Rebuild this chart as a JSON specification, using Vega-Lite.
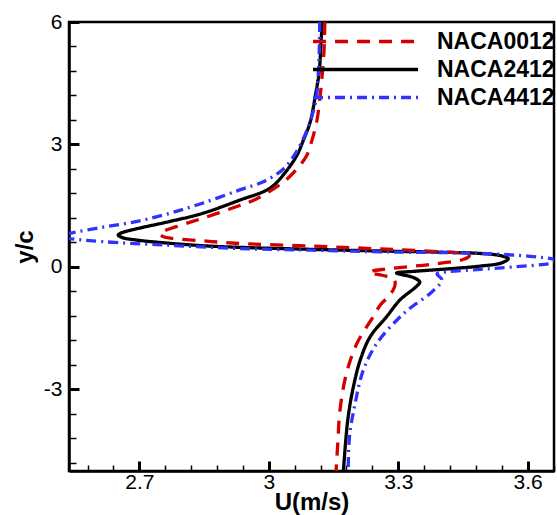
{
  "$schema": "https://vega.github.io/schema/vega-lite/v6.json",
  "width": 485,
  "height": 449,
  "autosize": {"type": "none"},
  "padding": {"left": 69, "top": 22, "right": 3, "bottom": 44},
  "background": "white",
  "config": {
    "view": {"stroke": "black", "strokeWidth": 2.5},
    "font": "Liberation Sans",
    "axis": {"domainColor": "black", "domainWidth": 2.5, "tickColor": "black", "grid": false, "labelColor": "black", "titleColor": "black", "labelFont": "Liberation Sans", "titleFont": "Liberation Sans"}
  },
  "data": {
    "values": [
      {"airfoil": "NACA2412", "i": 1, "u": 3.124, "y": 6.0},
      {"airfoil": "NACA2412", "i": 2, "u": 3.121, "y": 5.5},
      {"airfoil": "NACA2412", "i": 3, "u": 3.117, "y": 4.8},
      {"airfoil": "NACA2412", "i": 4, "u": 3.108, "y": 4.2},
      {"airfoil": "NACA2412", "i": 5, "u": 3.096, "y": 3.55},
      {"airfoil": "NACA2412", "i": 6, "u": 3.08, "y": 3.1},
      {"airfoil": "NACA2412", "i": 7, "u": 3.065, "y": 2.73},
      {"airfoil": "NACA2412", "i": 8, "u": 3.037, "y": 2.3},
      {"airfoil": "NACA2412", "i": 9, "u": 3.003, "y": 1.93},
      {"airfoil": "NACA2412", "i": 10, "u": 2.931, "y": 1.63},
      {"airfoil": "NACA2412", "i": 11, "u": 2.846, "y": 1.31},
      {"airfoil": "NACA2412", "i": 12, "u": 2.769, "y": 1.11},
      {"airfoil": "NACA2412", "i": 13, "u": 2.692, "y": 0.93},
      {"airfoil": "NACA2412", "i": 14, "u": 2.66, "y": 0.84},
      {"airfoil": "NACA2412", "i": 15, "u": 2.651, "y": 0.78},
      {"airfoil": "NACA2412", "i": 16, "u": 2.66, "y": 0.72},
      {"airfoil": "NACA2412", "i": 17, "u": 2.692, "y": 0.66},
      {"airfoil": "NACA2412", "i": 18, "u": 2.769, "y": 0.58},
      {"airfoil": "NACA2412", "i": 19, "u": 2.846, "y": 0.52},
      {"airfoil": "NACA2412", "i": 20, "u": 2.931, "y": 0.48},
      {"airfoil": "NACA2412", "i": 21, "u": 3.1, "y": 0.43},
      {"airfoil": "NACA2412", "i": 22, "u": 3.258, "y": 0.39},
      {"airfoil": "NACA2412", "i": 23, "u": 3.4, "y": 0.36},
      {"airfoil": "NACA2412", "i": 24, "u": 3.49, "y": 0.33},
      {"airfoil": "NACA2412", "i": 25, "u": 3.535, "y": 0.28},
      {"airfoil": "NACA2412", "i": 26, "u": 3.555, "y": 0.2},
      {"airfoil": "NACA2412", "i": 27, "u": 3.54, "y": 0.1},
      {"airfoil": "NACA2412", "i": 28, "u": 3.49, "y": 0.02},
      {"airfoil": "NACA2412", "i": 29, "u": 3.413, "y": -0.05},
      {"airfoil": "NACA2412", "i": 30, "u": 3.335, "y": -0.11},
      {"airfoil": "NACA2412", "i": 31, "u": 3.296, "y": -0.15},
      {"airfoil": "NACA2412", "i": 32, "u": 3.335, "y": -0.26},
      {"airfoil": "NACA2412", "i": 33, "u": 3.35, "y": -0.37},
      {"airfoil": "NACA2412", "i": 34, "u": 3.343, "y": -0.47},
      {"airfoil": "NACA2412", "i": 35, "u": 3.304, "y": -0.81},
      {"airfoil": "NACA2412", "i": 36, "u": 3.273, "y": -1.22},
      {"airfoil": "NACA2412", "i": 37, "u": 3.235, "y": -1.71},
      {"airfoil": "NACA2412", "i": 38, "u": 3.212, "y": -2.28},
      {"airfoil": "NACA2412", "i": 39, "u": 3.196, "y": -2.94},
      {"airfoil": "NACA2412", "i": 40, "u": 3.184, "y": -3.67},
      {"airfoil": "NACA2412", "i": 41, "u": 3.178, "y": -4.3},
      {"airfoil": "NACA2412", "i": 42, "u": 3.173, "y": -5.0},

      {"airfoil": "NACA0012", "i": 1, "u": 3.13, "y": 6.0},
      {"airfoil": "NACA0012", "i": 2, "u": 3.128, "y": 5.3},
      {"airfoil": "NACA0012", "i": 3, "u": 3.123, "y": 4.6},
      {"airfoil": "NACA0012", "i": 4, "u": 3.117, "y": 4.0},
      {"airfoil": "NACA0012", "i": 5, "u": 3.111, "y": 3.55},
      {"airfoil": "NACA0012", "i": 6, "u": 3.1, "y": 3.1},
      {"airfoil": "NACA0012", "i": 7, "u": 3.088, "y": 2.73},
      {"airfoil": "NACA0012", "i": 8, "u": 3.065, "y": 2.4},
      {"airfoil": "NACA0012", "i": 9, "u": 3.034, "y": 2.08},
      {"airfoil": "NACA0012", "i": 10, "u": 2.97, "y": 1.66},
      {"airfoil": "NACA0012", "i": 11, "u": 2.931, "y": 1.5},
      {"airfoil": "NACA0012", "i": 12, "u": 2.846, "y": 1.19},
      {"airfoil": "NACA0012", "i": 13, "u": 2.784, "y": 0.98},
      {"airfoil": "NACA0012", "i": 14, "u": 2.755, "y": 0.87},
      {"airfoil": "NACA0012", "i": 15, "u": 2.747, "y": 0.8},
      {"airfoil": "NACA0012", "i": 16, "u": 2.756, "y": 0.74},
      {"airfoil": "NACA0012", "i": 17, "u": 2.775, "y": 0.7},
      {"airfoil": "NACA0012", "i": 18, "u": 2.846, "y": 0.64},
      {"airfoil": "NACA0012", "i": 19, "u": 2.923, "y": 0.58},
      {"airfoil": "NACA0012", "i": 20, "u": 3.1, "y": 0.51},
      {"airfoil": "NACA0012", "i": 21, "u": 3.258, "y": 0.44},
      {"airfoil": "NACA0012", "i": 22, "u": 3.4, "y": 0.37},
      {"airfoil": "NACA0012", "i": 23, "u": 3.45, "y": 0.33},
      {"airfoil": "NACA0012", "i": 24, "u": 3.465, "y": 0.27},
      {"airfoil": "NACA0012", "i": 25, "u": 3.45, "y": 0.18},
      {"airfoil": "NACA0012", "i": 26, "u": 3.373, "y": 0.06},
      {"airfoil": "NACA0012", "i": 27, "u": 3.273, "y": -0.05},
      {"airfoil": "NACA0012", "i": 28, "u": 3.24, "y": -0.1},
      {"airfoil": "NACA0012", "i": 29, "u": 3.233, "y": -0.14},
      {"airfoil": "NACA0012", "i": 30, "u": 3.265, "y": -0.21},
      {"airfoil": "NACA0012", "i": 31, "u": 3.29, "y": -0.3},
      {"airfoil": "NACA0012", "i": 32, "u": 3.293, "y": -0.42},
      {"airfoil": "NACA0012", "i": 33, "u": 3.288, "y": -0.57},
      {"airfoil": "NACA0012", "i": 34, "u": 3.276, "y": -0.74},
      {"airfoil": "NACA0012", "i": 35, "u": 3.258, "y": -0.94},
      {"airfoil": "NACA0012", "i": 36, "u": 3.242, "y": -1.22},
      {"airfoil": "NACA0012", "i": 37, "u": 3.204, "y": -1.88},
      {"airfoil": "NACA0012", "i": 38, "u": 3.18, "y": -2.61},
      {"airfoil": "NACA0012", "i": 39, "u": 3.165, "y": -3.51},
      {"airfoil": "NACA0012", "i": 40, "u": 3.16, "y": -4.3},
      {"airfoil": "NACA0012", "i": 41, "u": 3.156, "y": -5.0},

      {"airfoil": "NACA4412", "i": 1, "u": 3.118, "y": 6.0},
      {"airfoil": "NACA4412", "i": 2, "u": 3.117, "y": 5.3},
      {"airfoil": "NACA4412", "i": 3, "u": 3.114, "y": 4.6},
      {"airfoil": "NACA4412", "i": 4, "u": 3.11, "y": 4.12},
      {"airfoil": "NACA4412", "i": 5, "u": 3.097, "y": 3.6},
      {"airfoil": "NACA4412", "i": 6, "u": 3.08, "y": 3.14},
      {"airfoil": "NACA4412", "i": 7, "u": 3.06, "y": 2.75},
      {"airfoil": "NACA4412", "i": 8, "u": 3.034, "y": 2.4},
      {"airfoil": "NACA4412", "i": 9, "u": 2.99, "y": 2.1},
      {"airfoil": "NACA4412", "i": 10, "u": 2.931, "y": 1.88},
      {"airfoil": "NACA4412", "i": 11, "u": 2.846, "y": 1.56},
      {"airfoil": "NACA4412", "i": 12, "u": 2.769, "y": 1.31},
      {"airfoil": "NACA4412", "i": 13, "u": 2.692, "y": 1.11},
      {"airfoil": "NACA4412", "i": 14, "u": 2.614, "y": 0.97},
      {"airfoil": "NACA4412", "i": 15, "u": 2.537, "y": 0.82},
      {"airfoil": "NACA4412", "i": 16, "u": 2.515, "y": 0.76},
      {"airfoil": "NACA4412", "i": 17, "u": 2.537, "y": 0.7},
      {"airfoil": "NACA4412", "i": 18, "u": 2.614, "y": 0.62},
      {"airfoil": "NACA4412", "i": 19, "u": 2.769, "y": 0.53},
      {"airfoil": "NACA4412", "i": 20, "u": 2.931, "y": 0.45},
      {"airfoil": "NACA4412", "i": 21, "u": 3.1, "y": 0.41},
      {"airfoil": "NACA4412", "i": 22, "u": 3.258, "y": 0.37},
      {"airfoil": "NACA4412", "i": 23, "u": 3.49, "y": 0.33},
      {"airfoil": "NACA4412", "i": 24, "u": 3.605, "y": 0.26},
      {"airfoil": "NACA4412", "i": 25, "u": 3.66, "y": 0.19},
      {"airfoil": "NACA4412", "i": 26, "u": 3.672, "y": 0.145},
      {"airfoil": "NACA4412", "i": 27, "u": 3.656, "y": 0.09},
      {"airfoil": "NACA4412", "i": 28, "u": 3.567, "y": 0.0},
      {"airfoil": "NACA4412", "i": 29, "u": 3.49, "y": -0.06},
      {"airfoil": "NACA4412", "i": 30, "u": 3.413, "y": -0.12},
      {"airfoil": "NACA4412", "i": 31, "u": 3.39, "y": -0.17},
      {"airfoil": "NACA4412", "i": 32, "u": 3.401, "y": -0.32},
      {"airfoil": "NACA4412", "i": 33, "u": 3.374, "y": -0.65},
      {"airfoil": "NACA4412", "i": 34, "u": 3.331, "y": -0.98},
      {"airfoil": "NACA4412", "i": 35, "u": 3.297, "y": -1.3},
      {"airfoil": "NACA4412", "i": 36, "u": 3.25, "y": -1.88},
      {"airfoil": "NACA4412", "i": 37, "u": 3.219, "y": -2.53},
      {"airfoil": "NACA4412", "i": 38, "u": 3.2, "y": -3.35},
      {"airfoil": "NACA4412", "i": 39, "u": 3.187, "y": -4.16},
      {"airfoil": "NACA4412", "i": 40, "u": 3.184, "y": -5.0}
    ]
  },
  "layer": [
    {
      "mark": {"type": "line", "clip": true, "strokeWidth": 3.3, "interpolate": "catmull-rom"},
      "encoding": {
        "x": {
          "field": "u", "type": "quantitative",
          "scale": {"domain": [2.537, 3.661], "nice": false, "zero": false},
          "axis": {"orient": "bottom", "values": [2.7, 3, 3.3, 3.6], "labelExpr": "'' + datum.value", "tickSize": -10, "tickWidth": 3, "labelPadding": 10, "labelFontSize": 21, "title": "U(m/s)", "titleFontSize": 24, "titleFontWeight": "bold", "titlePadding": -2}
        },
        "y": {
          "field": "y", "type": "quantitative",
          "scale": {"domain": [-5, 6], "nice": false, "zero": false},
          "axis": {"orient": "left", "values": [-3, 0, 3, 6], "labelExpr": "'' + datum.value", "tickSize": -10, "tickWidth": 3, "labelPadding": 17, "labelFontSize": 21, "title": "y/c", "titleFontSize": 24, "titleFontWeight": "bold", "titlePadding": 6}
        },
        "order": {"field": "i", "type": "quantitative"},
        "color": {
          "field": "airfoil", "type": "nominal",
          "scale": {"domain": ["NACA0012", "NACA2412", "NACA4412"], "range": ["#d40000", "#000000", "#3232ff"]},
          "legend": {"orient": "none", "legendX": 285, "legendY": 8, "title": null, "padding": 0, "symbolType": "M-6,0H6", "symbolSize": 306, "symbolStrokeWidth": 3.3, "labelFontSize": 23, "labelFontWeight": "bold", "labelFont": "Liberation Sans", "labelColor": "black", "labelOffset": 60, "rowPadding": 4}
        },
        "strokeDash": {
          "field": "airfoil", "type": "nominal",
          "scale": {"domain": ["NACA0012", "NACA2412", "NACA4412"], "range": [[13, 9], [1, 0], [10, 5, 2, 5]]},
          "legend": {"orient": "none", "legendX": 285, "legendY": 8, "title": null, "padding": 0, "symbolType": "M-6,0H6", "symbolSize": 306, "symbolStrokeWidth": 3.3, "labelFontSize": 23, "labelFontWeight": "bold", "labelFont": "Liberation Sans", "labelColor": "black", "labelOffset": 60, "rowPadding": 4}
        }
      }
    },
    {
      "mark": {"type": "point", "opacity": 0},
      "encoding": {
        "x": {
          "field": "u", "type": "quantitative",
          "axis": {"orient": "bottom", "values": [2.58, 2.64, 2.76, 2.82, 2.88, 2.94, 3.06, 3.12, 3.18, 3.24, 3.36, 3.42, 3.48, 3.54, 3.66], "labels": false, "tickSize": -6, "tickWidth": 1.5, "title": null, "domain": false}
        },
        "y": {
          "field": "y", "type": "quantitative",
          "axis": {"orient": "left", "values": [-4.8, -4.2, -3.6, -2.4, -1.8, -1.2, -0.6, 0.6, 1.2, 1.8, 2.4, 3.6, 4.2, 4.8, 5.4], "labels": false, "tickSize": -7, "tickWidth": 1.5, "title": null, "domain": false}
        }
      }
    }
  ],
  "resolve": {"axis": {"x": "independent", "y": "independent"}}
}
